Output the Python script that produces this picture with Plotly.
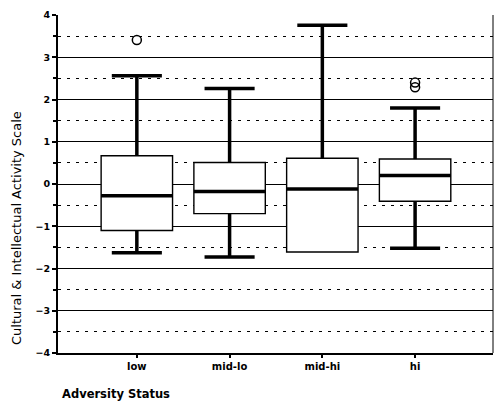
import plotly.graph_objects as go

categories = ["low", "mid-lo", "mid-hi", "hi"]
q1 = [-1.10, -0.70, -1.61, -0.41]
median = [-0.28, -0.18, -0.12, 0.20]
q3 = [0.67, 0.51, 0.61, 0.59]
lower_whisker = [-1.63, -1.73, -1.61, -1.52]
upper_whisker = [2.56, 2.26, 3.76, 1.80]
outlier_cat = [0, 3, 3]
outlier_val = [3.41, 2.40, 2.29]

y_ticks = [-4, -3, -2, -1, 0, 1, 2, 3, 4]

BOX_W = 0.77
CAP_W = 0.54
xs = list(range(len(categories)))

fig = go.Figure()
fig.add_trace(go.Box(
    x=xs, q1=q1, median=median, q3=q3,
    lowerfence=lower_whisker, upperfence=upper_whisker,
    width=BOX_W, whiskerwidth=0.0, fillcolor="white",
    line=dict(color="black", width=1.4), boxpoints=False,
    showlegend=False, hoverinfo="skip",
))

# thick whiskers, caps, and medians
wx, wy = [], []
for i in xs:
    for a, b in ((q3[i], upper_whisker[i]), (q1[i], lower_whisker[i])):
        if abs(a - b) > 1e-9:
            wx += [i, i, None, i - CAP_W / 2, i + CAP_W / 2, None]
            wy += [a, b, None, b, b, None]
fig.add_trace(go.Scatter(x=wx, y=wy, mode="lines", line=dict(color="black", width=3.5),
                         showlegend=False, hoverinfo="skip"))
mx, my = [], []
for i in xs:
    mx += [i - BOX_W / 2, i + BOX_W / 2, None]
    my += [median[i], median[i], None]
fig.add_trace(go.Scatter(x=mx, y=my, mode="lines", line=dict(color="black", width=3.5),
                         showlegend=False, hoverinfo="skip"))
fig.add_trace(go.Scatter(x=outlier_cat, y=outlier_val, mode="markers",
                         marker=dict(symbol="circle-open", size=9, color="black",
                                     line=dict(width=1.5)),
                         showlegend=False, hoverinfo="skip"))

fig.update_layout(
    template="none",
    width=494, height=405,
    margin=dict(l=58, r=1, t=15, b=52),
    plot_bgcolor="white", paper_bgcolor="white",
    font=dict(family="DejaVu Sans", color="black"),
    xaxis=dict(
        range=[-0.85, 3.84], tickmode="array", tickvals=xs, ticktext=categories,
        showgrid=False, zeroline=False, showline=True, linecolor="black", linewidth=1.5,
        mirror=False, ticks="outside", ticklen=3, tickwidth=2, tickcolor="black",
        tickfont=dict(size=10, family="DejaVu Sans", weight="bold", color="black"),
    ),
    yaxis=dict(
        range=[-4, 4], tickmode="array", tickvals=y_ticks,
        showgrid=True, gridcolor="black", gridwidth=1.2, zeroline=False,
        showline=True, linecolor="black", linewidth=2,
        ticks="outside", ticklen=4, tickwidth=2, tickcolor="black",
        tickfont=dict(size=9.5, family="DejaVu Sans", weight="bold", color="black"),
        minor=dict(dtick=0.5, showgrid=True, gridcolor="black", gridwidth=1.2,
                   griddash="3px,6px", ticks="outside", ticklen=3, tickwidth=1.5,
                   tickcolor="black"),
    ),
    annotations=[
        dict(text="Cultural & Intellectual Activity Scale", textangle=-90,
             xref="paper", yref="paper", x=-0.094, y=0.37, xanchor="center",
             yanchor="middle", showarrow=False, font=dict(size=13, color="black")),
        dict(text="Adversity Status", xref="paper", yref="paper", x=0.004, y=-0.12,
             xanchor="left", yanchor="middle", showarrow=False,
             font=dict(size=11.5, color="black", weight="bold")),
    ],
)
# right border line
fig.add_shape(type="line", xref="paper", yref="paper", x0=1, x1=1, y0=0, y1=1,
              line=dict(color="black", width=1))

fig.write_html("out.html", config={"displayModeBar": False},
               post_script="document.body.style.margin='0';document.body.style.overflow='hidden';")
